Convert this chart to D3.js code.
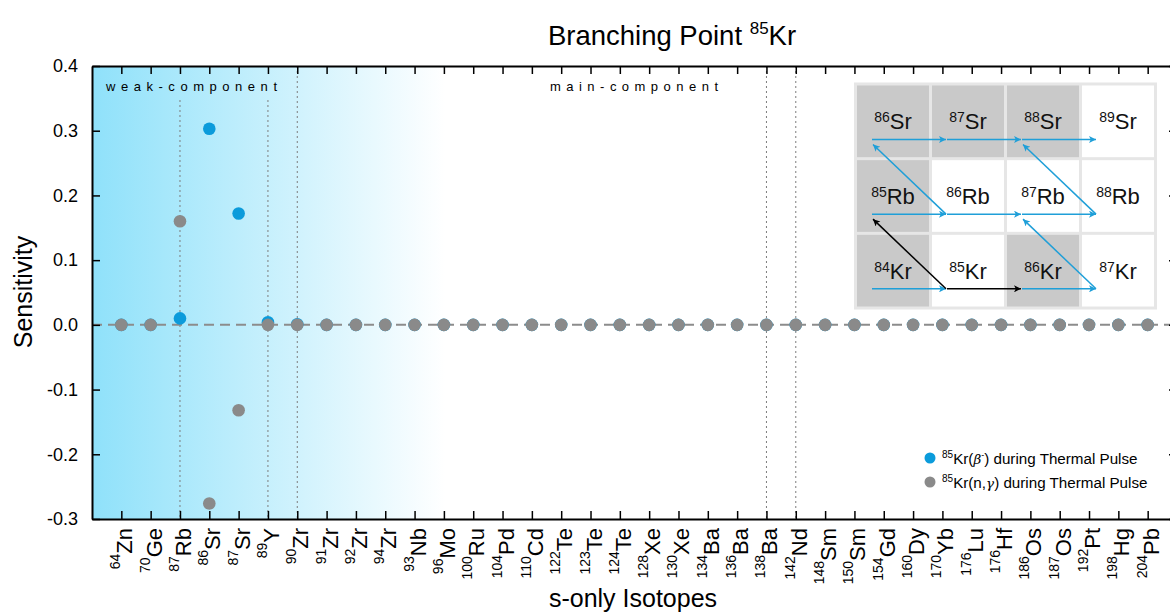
<!DOCTYPE html>
<html>
<head>
<meta charset="utf-8">
<script src="https://cdn.jsdelivr.net/npm/d3@7"></script>
<style>
  body { margin: 0; background: #fff; }
  svg { display: block; font-family: "Liberation Sans", Arial, Helvetica, sans-serif; }
</style>
</head>
<body>
<svg id="chart" width="1170" height="616"></svg>
<script>
// s-only isotopes along the x axis
const massNumbers = [64, 70, 87, 86, 87, 89, 90, 91, 92, 94, 93, 96, 100, 104, 110, 122, 123, 124,
                     128, 130, 134, 136, 138, 142, 148, 150, 154, 160, 170, 176, 176, 186, 187, 192, 198, 204];
const elements = ["Zn", "Ge", "Rb", "Sr", "Sr", "Y", "Zr", "Zr", "Zr", "Zr", "Nb", "Mo", "Ru", "Pd", "Cd", "Te", "Te", "Te",
                  "Xe", "Xe", "Ba", "Ba", "Ba", "Nd", "Sm", "Sm", "Gd", "Dy", "Yb", "Lu", "Hf", "Os", "Os", "Pt", "Hg", "Pb"];

// sensitivities of each isotope to the two 85Kr rates
const betaSensitivity = [0, 0, 0.010, 0.303, 0.172, 0.004, 0.001, 0, 0, 0, 0, 0, 0, 0, 0, 0, 0, 0,
                         0, 0, 0, 0, 0, 0, 0, 0, 0, 0, 0, 0, 0, 0, 0, 0, 0, 0];
const captureSensitivity = [0, 0, 0.160, -0.276, -0.132, 0, 0, 0, 0, 0, 0, 0, 0, 0, 0, 0, 0, 0,
                            0, 0, 0, 0, 0, 0, 0, 0, 0, 0, 0, 0, 0, 0, 0, 0, 0, 0];

const yTicks = [0.4, 0.3, 0.2, 0.1, 0.0, -0.1, -0.2, -0.3];

// dotted guide lines: isotope index and whether the line clears the region label
const guideLines = [
  { index: 2, belowLabel: true },
  { index: 5, belowLabel: true },
  { index: 6, belowLabel: false },
  { index: 22, belowLabel: false },
  { index: 23, belowLabel: false }
];

// nuclide chart inset around the 85Kr branching
const insetRows = ["Sr", "Rb", "Kr"];
const insetCells = [
  { row: 0, col: 0, mass: 86, el: "Sr", stable: true },
  { row: 0, col: 1, mass: 87, el: "Sr", stable: true },
  { row: 0, col: 2, mass: 88, el: "Sr", stable: true },
  { row: 0, col: 3, mass: 89, el: "Sr", stable: false },
  { row: 1, col: 0, mass: 85, el: "Rb", stable: true },
  { row: 1, col: 1, mass: 86, el: "Rb", stable: false },
  { row: 1, col: 2, mass: 87, el: "Rb", stable: false },
  { row: 1, col: 3, mass: 88, el: "Rb", stable: false },
  { row: 2, col: 0, mass: 84, el: "Kr", stable: true },
  { row: 2, col: 1, mass: 85, el: "Kr", stable: false },
  { row: 2, col: 2, mass: 86, el: "Kr", stable: true },
  { row: 2, col: 3, mass: 87, el: "Kr", stable: false }
];
// neutron captures (same row, next column)
const captureFlows = [
  { row: 0, col: 0, branch: false }, { row: 0, col: 1, branch: false }, { row: 0, col: 2, branch: false },
  { row: 1, col: 0, branch: false }, { row: 1, col: 1, branch: false }, { row: 1, col: 2, branch: false },
  { row: 2, col: 0, branch: false }, { row: 2, col: 1, branch: true }, { row: 2, col: 2, branch: false }
];
// beta decays (up one row, back one column)
const decayFlows = [
  { row: 1, col: 1, branch: false },
  { row: 1, col: 3, branch: false },
  { row: 2, col: 1, branch: true },
  { row: 2, col: 3, branch: false }
];

const BLUE = "#0b9bdb";
const GREY = "#8a8a8a";
const ARROW_BLUE = "#1f9fd8";

const svg = d3.select("#chart");
const plotLeft = 92, plotRight = 1177, plotTop = 66, plotBottom = 519;

const x = d3.scalePoint().domain(d3.range(massNumbers.length)).range([plotLeft, plotRight]).padding(1);
const y = d3.scaleLinear().domain([-0.3, 0.4]).range([plotBottom, plotTop]);

// background gradient marking the weak component
const defs = svg.append("defs");
const grad = defs.append("linearGradient").attr("id", "weakGrad")
  .attr("gradientUnits", "userSpaceOnUse").attr("x1", plotLeft).attr("x2", 445).attr("y1", 0).attr("y2", 0);
grad.append("stop").attr("offset", "0%").attr("stop-color", "#8fe1fa");
grad.append("stop").attr("offset", "100%").attr("stop-color", "#ffffff");

svg.append("rect").attr("x", plotLeft).attr("y", plotTop)
  .attr("width", plotRight - plotLeft).attr("height", plotBottom - plotTop)
  .attr("fill", "url(#weakGrad)");

// dotted guides
svg.append("g").selectAll("line").data(guideLines).join("line")
  .attr("x1", d => x(d.index)).attr("x2", d => x(d.index))
  .attr("y1", d => d.belowLabel ? 100 : plotTop).attr("y2", plotBottom)
  .attr("stroke", "#7d7d7d").attr("stroke-width", 1).attr("stroke-dasharray", "2,3");

// zero line
svg.append("line").attr("x1", plotLeft).attr("x2", plotRight).attr("y1", y(0)).attr("y2", y(0))
  .attr("stroke", "#8c8c8c").attr("stroke-width", 2).attr("stroke-dasharray", "10,6");

// region labels
svg.append("text").attr("x", 106).attr("y", 91).attr("textLength", 171).attr("lengthAdjust", "spacing")
  .attr("font-size", 13).text("weak-component");
svg.append("text").attr("x", 550).attr("y", 91).attr("textLength", 168).attr("lengthAdjust", "spacing")
  .attr("font-size", 13).text("main-component");

// data points: beta-decay series first, capture series over it
svg.append("g").selectAll("circle").data(betaSensitivity).join("circle")
  .attr("cx", (d, i) => x(i)).attr("cy", d => y(d)).attr("r", 6.3).attr("fill", BLUE);
svg.append("g").selectAll("circle").data(captureSensitivity).join("circle")
  .attr("cx", (d, i) => x(i)).attr("cy", d => y(d)).attr("r", 6.3).attr("fill", GREY);

// axes with inward ticks
const styleAxis = g => {
  g.select(".domain").attr("stroke", "#000").attr("stroke-width", 2);
  g.selectAll(".tick line").attr("stroke", "#000").attr("stroke-width", 1.5);
};
svg.append("g").attr("transform", `translate(${plotLeft},0)`)
  .call(d3.axisLeft(y).tickValues(yTicks).tickSize(-8).tickSizeOuter(0).tickPadding(14).tickFormat(d => d.toFixed(1)))
  .call(styleAxis)
  .call(g => g.selectAll(".tick text").attr("font-size", 18).attr("fill", "#000")
    .attr("font-family", "'Liberation Sans', Arial, sans-serif"));
svg.append("g").attr("transform", `translate(${plotRight},0)`)
  .call(d3.axisRight(y).tickValues(yTicks).tickSize(-8).tickSizeOuter(0).tickFormat(""))
  .call(styleAxis);
svg.append("g").attr("transform", `translate(0,${plotTop})`)
  .call(d3.axisTop(x).tickSize(-8).tickSizeOuter(0).tickFormat(""))
  .call(styleAxis);
svg.append("g").attr("transform", `translate(0,${plotBottom})`)
  .call(d3.axisBottom(x).tickSize(-8).tickSizeOuter(0).tickFormat(""))
  .call(styleAxis);

// rotated isotope labels with superscript mass numbers
const xl = svg.append("g").selectAll("text").data(d3.range(massNumbers.length)).join("text")
  .attr("transform", i => `translate(${x(i) + 11},528) rotate(-90)`)
  .attr("text-anchor", "end").attr("fill", "#000");
xl.append("tspan").attr("font-size", 14).attr("dy", -12).text(i => massNumbers[i]);
xl.append("tspan").attr("font-size", 22).attr("dy", 12).text(i => elements[i]);

// titles
const title = svg.append("text").attr("x", 672).attr("y", 45).attr("text-anchor", "middle").attr("font-size", 27.5);
title.append("tspan").text("Branching Point ");
title.append("tspan").attr("font-size", 17).attr("dy", -11).text("85");
title.append("tspan").attr("dy", 11).text("Kr");

svg.append("text").attr("transform", "translate(32,292) rotate(-90)").attr("text-anchor", "middle")
  .attr("font-size", 25).text("Sensitivity");
svg.append("text").attr("x", 633).attr("y", 607).attr("text-anchor", "middle")
  .attr("font-size", 25).text("s-only Isotopes");

// legend
const legend = svg.append("g");
const legendItems = [
  { color: BLUE, parts: [["Kr(", false], ["β", true], ["-", "sup"], [") during Thermal Pulse", false]] },
  { color: GREY, parts: [["Kr(n,", false], ["γ", true], [") during Thermal Pulse", false]] }
];
legendItems.forEach((item, k) => {
  const ly = 458 + k * 24;
  legend.append("circle").attr("cx", 930).attr("cy", ly).attr("r", 5.5).attr("fill", item.color);
  const t = legend.append("text").attr("x", 942).attr("y", ly + 5.5).attr("font-size", 15.2);
  t.append("tspan").attr("font-size", 10).attr("dy", -6).text("85");
  let raised = true;
  item.parts.forEach(([s, style]) => {
    const sp = t.append("tspan").text(s);
    if (style === "sup") {
      sp.attr("font-size", 9).attr("dy", -6);
      raised = true;
    } else {
      sp.attr("dy", raised ? 6 : 0);
      raised = false;
      if (style === true) sp.attr("font-style", "italic").attr("font-family", "'DejaVu Serif', serif").attr("font-size", 13.5);
    }
  });
});

// nuclide chart inset
const ix = d3.scaleBand().domain(d3.range(4)).range([854, 1157]).paddingInner(0.04).paddingOuter(0.04);
const iy = d3.scaleBand().domain(d3.range(insetRows.length)).range([82.5, 309.5]).paddingInner(0.04).paddingOuter(0.04);
const inset = svg.append("g");
inset.append("rect").attr("x", 854).attr("y", 82.5).attr("width", 303).attr("height", 227).attr("fill", "#e6e6e6");
inset.selectAll("rect.cell").data(insetCells).join("rect").attr("class", "cell")
  .attr("x", d => ix(d.col)).attr("y", d => iy(d.row))
  .attr("width", ix.bandwidth()).attr("height", iy.bandwidth())
  .attr("fill", d => d.stable ? "#c9c9c9" : "#ffffff");
const cellText = inset.selectAll("text.cell").data(insetCells).join("text").attr("class", "cell")
  .attr("x", d => ix(d.col) + ix.bandwidth() / 2).attr("y", d => iy(d.row) + 44)
  .attr("text-anchor", "middle").attr("fill", "#111");
cellText.append("tspan").attr("font-size", 14).attr("dy", -7).text(d => d.mass);
cellText.append("tspan").attr("font-size", 22).attr("dy", 7).text(d => d.el);

const marker = (id, color) => defs.append("marker").attr("id", id)
  .attr("viewBox", "0 0 10 10").attr("refX", 10).attr("refY", 5)
  .attr("markerWidth", 9).attr("markerHeight", 7).attr("markerUnits", "userSpaceOnUse")
  .attr("orient", "auto")
  .append("path").attr("d", "M0,0 L10,5 L0,10 L2.5,5 Z").attr("fill", color);
marker("arrowBlue", ARROW_BLUE);
marker("arrowBlack", "#000");

const arrowY = r => iy(r) + 54;
inset.selectAll("line.capture").data(captureFlows).join("line").attr("class", "capture")
  .attr("x1", d => ix(d.col) + 15).attr("x2", d => ix(d.col + 1) + 14)
  .attr("y1", d => arrowY(d.row)).attr("y2", d => arrowY(d.row))
  .attr("stroke", d => d.branch ? "#000" : ARROW_BLUE).attr("stroke-width", 1.5)
  .attr("marker-end", d => d.branch ? "url(#arrowBlack)" : "url(#arrowBlue)");
inset.selectAll("line.decay").data(decayFlows).join("line").attr("class", "decay")
  .attr("x1", d => ix(d.col) + 14).attr("y1", d => arrowY(d.row))
  .attr("x2", d => ix(d.col - 1) + 16).attr("y2", d => arrowY(d.row - 1) + 5)
  .attr("stroke", d => d.branch ? "#000" : ARROW_BLUE).attr("stroke-width", 1.5)
  .attr("marker-end", d => d.branch ? "url(#arrowBlack)" : "url(#arrowBlue)");
</script>
</body>
</html>
